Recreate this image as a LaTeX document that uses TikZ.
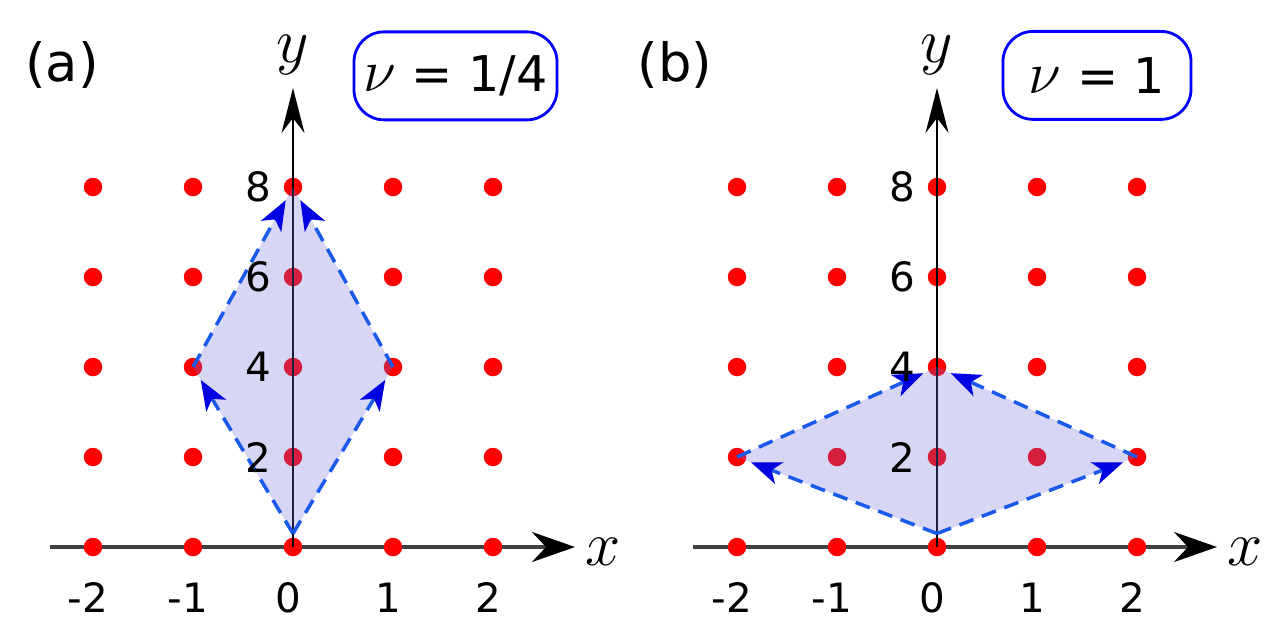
\RequirePackage{fix-cm}
\documentclass[tikz,border=0pt]{standalone}
\usepackage{fontspec}
\setmainfont{DejaVu Sans}
\usetikzlibrary{arrows.meta}
\definecolor{lavfill}{RGB}{110,110,220}
\definecolor{edgeblue}{RGB}{25,90,235}
\definecolor{tipblue}{RGB}{0,0,225}

\begin{document}
\begin{tikzpicture}[
  dot/.style={circle,fill=red,inner sep=0pt,minimum size=0.37cm},
  xaxis/.style={line width=2pt,black!75,-{Stealth[length=0.86cm,width=0.6cm,inset=0.28cm,black]}},
  yaxis/.style={line width=1.1pt,-{Stealth[length=0.9cm,width=0.46cm,inset=0.3cm]}},
  cell/.style={fill=lavfill,fill opacity=0.28},
  edge/.style={edgeblue,line width=2pt,dash pattern=on 0.3cm off 0.18cm,shorten >=0.3cm,-{Stealth[length=0.6cm,width=0.46cm,inset=0.16cm,tipblue]}},
  nubox/.style={draw=blue,line width=1.6pt,rounded corners=0.6cm,minimum width=#1,minimum height=1.76cm,inner sep=0pt,font=\fontsize{28}{34}\selectfont},
  tick/.style={font=\fontsize{23}{28}\selectfont},
  axlabel/.style={font=\fontsize{36}{42}\selectfont},
  panel/.style={font=\fontsize{30}{36}\selectfont}
]
\useasboundingbox (0,0) rectangle (25.52,12.6);

\node [panel] (la) at (1.24,11.3) {(a)};
\node [panel] (lb) at (13.5,11.3) {(b)};

% panel (a)
\begin{scope}[shift={(5.86,1.66)},x=2cm,y=0.9cm]
\coordinate (ax0) at (-2.43,0);
\coordinate (ax1) at (2.82,0);
\coordinate (ay0) at (0,0);
\coordinate (ay1) at (0,10.2);
\coordinate (ab) at (0,0.3);
\draw [xaxis] (ax0) -- (ax1);
\foreach \i in {1,...,5}
  \foreach \j in {0,...,4}
    \node [dot] (a\i\j) at ({\i-3},{2*\j}) {};
\draw [yaxis] (ay0) -- (ay1);
\fill [cell] (ab) -- (a22.center) -- (a34.center) -- (a42.center) -- cycle;
\draw [edge] (ab) -- (a22.center);
\draw [edge] (a22.center) -- (a34.center);
\draw [edge] (ab) -- (a42.center);
\draw [edge] (a42.center) -- (a34.center);
\foreach \i/\t in {1/-2,2/-1,3/0,4/1,5/2}
  \node [tick] (ta\i) at ({\i-3-0.05},-1.13) {\t};
\foreach \j in {1,...,4}
  \node [tick] (sa\j) at (-0.35,{2*\j}) {\number\numexpr2*\j\relax};
\node [axlabel] (xa) at (3.1,-0.1) {$x$};
\node [axlabel] (ya) at (0,10.93) {$y$};
\node [nubox=4.06cm] (nua) at (1.625,10.47) {{\fontsize{34}{40}\selectfont$\nu$} = 1/4};
\end{scope}

% panel (b)
\begin{scope}[shift={(18.74,1.66)},x=2cm,y=0.9cm]
\coordinate (bx0) at (-2.44,0);
\coordinate (bx1) at (2.8,0);
\coordinate (by0) at (0,0);
\coordinate (by1) at (0,10.2);
\coordinate (bb) at (0,0.3);
\draw [xaxis] (bx0) -- (bx1);
\foreach \i in {1,...,5}
  \foreach \j in {0,...,4}
    \node [dot] (b\i\j) at ({\i-3},{2*\j}) {};
\draw [yaxis] (by0) -- (by1);
\fill [cell] (bb) -- (b11.center) -- (b32.center) -- (b51.center) -- cycle;
\draw [edge] (bb) -- (b11.center);
\draw [edge] (b11.center) -- (b32.center);
\draw [edge] (bb) -- (b51.center);
\draw [edge] (b51.center) -- (b32.center);
\foreach \i/\t in {1/-2,2/-1,3/0,4/1,5/2}
  \node [tick] (tb\i) at ({\i-3-0.05},-1.13) {\t};
\foreach \j in {1,...,4}
  \node [tick] (sb\j) at (-0.35,{2*\j}) {\number\numexpr2*\j\relax};
\node [axlabel] (xb) at (3.08,-0.1) {$x$};
\node [axlabel] (yb) at (0,10.93) {$y$};
\node [nubox=3.76cm] (nub) at (1.6,10.48) {{\fontsize{34}{40}\selectfont$\nu$} = 1};
\end{scope}
\end{tikzpicture}
\end{document}
